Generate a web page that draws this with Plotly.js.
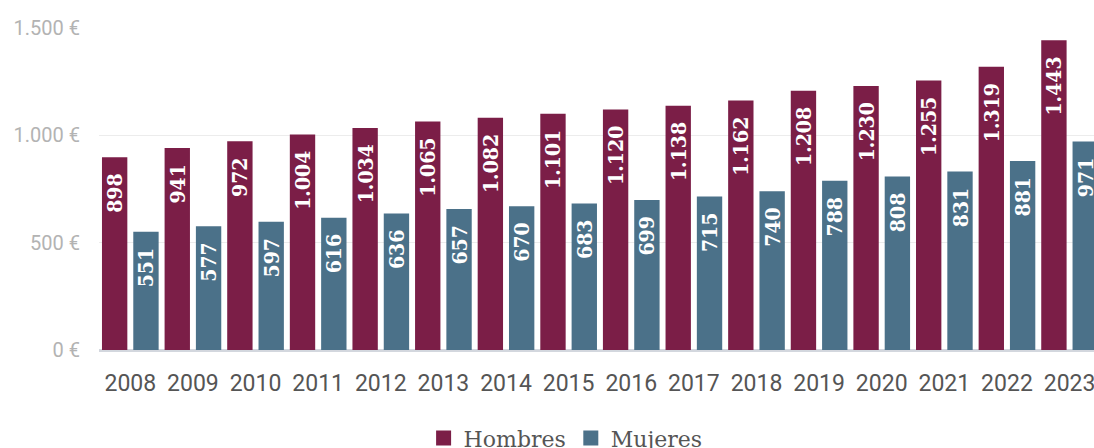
<!DOCTYPE html>
<html>
<head>
<meta charset="utf-8">
<script src="https://cdn.plot.ly/plotly-3.0.1.min.js"></script>
<style>
html,body{margin:0;padding:0;background:#fff;overflow:hidden;}
#chart{width:1094px;height:448px;}
</style>
</head>
<body>
<div id="chart"></div>
<script>
const years = ['2008','2009','2010','2011','2012','2013','2014','2015','2016','2017','2018','2019','2020','2021','2022','2023'];
const hombres = [898, 941, 972, 1004, 1034, 1065, 1082, 1101, 1120, 1138, 1162, 1208, 1230, 1255, 1319, 1443];
const mujeres = [551, 577, 597, 616, 636, 657, 670, 683, 699, 715, 740, 788, 808, 831, 881, 971];
const seriesNames = ['Hombres', 'Mujeres'];
const colors = ['#7b1e47', '#4b7189'];

function fmt(v) {
  return String(v).replace(/\B(?=(\d{3})+(?!\d))/g, '.');
}
const pad = '<span style="color:transparent">0</span>';

const labelFont = {family: '"DejaVu Serif Condensed", "DejaVu Serif", serif', size: 21, color: '#ffffff', weight: 'bold'};

function barTrace(name, vals, color) {
  return {
    type: 'bar',
    name: name,
    x: years,
    y: vals,
    marker: {color: color, line: {width: 0}},
    text: vals.map(v => fmt(v) + pad),
    textposition: 'inside',
    insidetextanchor: 'end',
    textangle: -90,
    constraintext: 'none',
    insidetextfont: labelFont,
    hoverinfo: 'skip',
    showlegend: false
  };
}
function legendTrace(name, color) {
  return {
    type: 'scatter',
    mode: 'markers',
    name: name,
    x: [null], y: [null],
    marker: {symbol: 'square', size: 15, color: color},
    showlegend: true,
    hoverinfo: 'skip'
  };
}

const data = [
  barTrace(seriesNames[0], hombres, colors[0]),
  barTrace(seriesNames[1], mujeres, colors[1]),
  legendTrace(seriesNames[0], colors[0]),
  legendTrace(seriesNames[1], colors[1])
];

const layout = {
  width: 1094,
  height: 448,
  margin: {l: 99, r: 0, t: 28, b: 98, pad: 0},
  paper_bgcolor: '#ffffff',
  plot_bgcolor: '#ffffff',
  barmode: 'group',
  bargap: 0,
  bargroupgap: 0.19,
  separators: ',.',
  xaxis: {
    type: 'category',
    range: [-0.5, 15.39],
    showgrid: false,
    showline: false,
    zeroline: false,
    ticks: '',
    tickfont: {family: 'Roboto, sans-serif', size: 23, color: '#555555'},
    ticklabelstandoff: 17,
    automargin: false,
    fixedrange: true
  },
  yaxis: {
    range: [0, 1500],
    dtick: 500,
    tick0: 0,
    tickformat: ',.0f',
    ticksuffix: ' €',
    showgrid: true,
    gridcolor: '#ececec',
    gridwidth: 1,
    zeroline: true,
    zerolinecolor: '#d3d7de',
    zerolinewidth: 3,
    showline: false,
    ticks: '',
    tickfont: {family: 'Roboto, sans-serif', size: 20, color: '#b3b3b3'},
    ticklabelstandoff: 18,
    automargin: false,
    fixedrange: true
  },
  showlegend: true,
  legend: {
    orientation: 'h',
    xref: 'container',
    yref: 'container',
    x: 0.517,
    xanchor: 'center',
    y: 0.022,
    yanchor: 'middle',
    font: {family: '"DejaVu Serif", serif', size: 22, color: '#555555'},
    itemwidth: 30,
    tracegroupgap: 0
  }
};

Plotly.newPlot('chart', data, layout, {staticPlot: true, displayModeBar: false});
</script>
</body>
</html>
